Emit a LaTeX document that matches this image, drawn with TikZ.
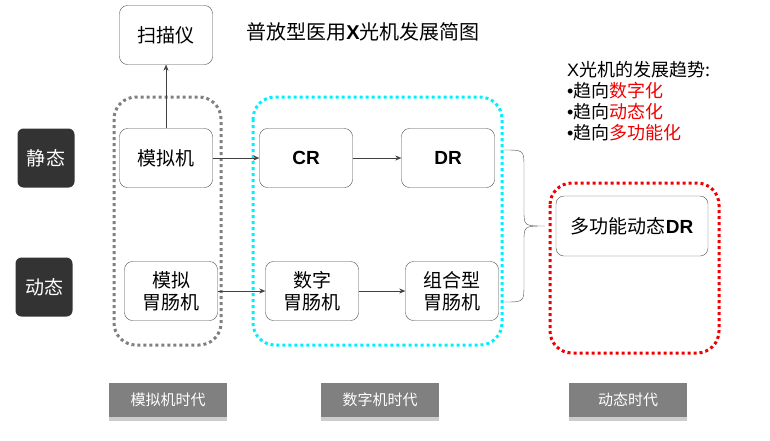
\documentclass[tikz,border=0pt]{standalone}
\usepackage{fontspec}
\setmainfont{Noto Sans CJK SC}
\newfontfamily\arial{Liberation Sans}
\usetikzlibrary{arrows.meta,shadows}
\definecolor{aqua}{RGB}{0,240,255}
\definecolor{pure red}{RGB}{240,0,0}
\tikzset{
    box/.style={draw=black!70, rounded corners=8pt, minimum width=93pt, minimum height=59pt, align=center, inner sep=1pt, font=\fontsize{19}{22}\selectfont}, % 设备方框
    state tag/.style={fill=black!80, rounded corners=6pt, minimum width=57pt, minimum height=59pt, text=white, font=\fontsize{19}{20}\selectfont}, % 左侧静态/动态标签
    era frame/.style={line width=3pt, dash pattern=on 3pt off 3pt, rounded corners=22pt}, % 时代虚线框
    era label/.style={fill=gray, text=white, minimum width=118pt, minimum height=34pt, font=\fontsize{15}{16}\selectfont, drop shadow={shadow xshift=0pt, shadow yshift=-4pt, fill=black!20, opacity=1}}, % 底部时代名称
    link/.style={draw=black!75, -{Stealth[length=6pt, width=5pt]}} % 连接箭头
}
\begin{document}
\begin{tikzpicture}[x=1pt, y=-1pt]
    \useasboundingbox (0,0) rectangle (770,440);

    % 时代虚线框
    \draw[era frame, gray] (114,97) rectangle (221,345);
    \draw[era frame, aqua] (253,97) rectangle (502,345);
    \draw[era frame, pure red] (550,183) rectangle (719,353);

    \node[font=\fontsize{20}{22}\selectfont] (title) at (363,32) {普放型医用{\arial\bfseries X}光机发展简图};

    \node[state tag] (jt) at (46,158) {静态};
    \node[state tag] (dt) at (44,287) {动态};

    \node[box] (smy) at (166,35) {扫描仪};
    \node[box] (mnj) at (166,158) {模拟机};
    \node[box] (mnwc) at (171,291) {模拟\\胃肠机};
    \node[box, font=\fontsize{19}{22}\selectfont\arial\bfseries] (cr) at (306,158) {CR};
    \node[box, font=\fontsize{19}{22}\selectfont\arial\bfseries] (dr) at (448,158) {DR};
    \node[box] (szwc) at (312,291) {数字\\胃肠机};
    \node[box] (zhwc) at (452,291) {组合型\\胃肠机};
    \node[box, minimum width=152pt, minimum height=60pt] (dgn) at (632,226) {多功能动态{\arial\bfseries DR}};

    \draw[link] (mnj) -- (smy);
    \draw[link] (mnj) -- (cr);
    \draw[link] (cr) -- (dr);
    \draw[link] (mnwc) -- (szwc);
    \draw[link] (szwc) -- (zhwc);

    % 大括号
    \coordinate (bt) at (504,150);
    \coordinate (bb) at (504,302);
    \coordinate (tip) at (545,226);
    \draw[black!70] (bt) .. controls (524,150) .. (524,168) -- (524,210) .. controls (524,226) .. (tip)
        .. controls (524,226) .. (524,242) -- (524,284) .. controls (524,302) .. (bb);

    \node[anchor=north west, inner sep=0pt, align=left, font=\fontsize{18}{21}\selectfont] (trend) at (567,61)
        {{\arial X}光机的发展趋势:\\{\arial •}趋向\textcolor{pure red}{数字化}\\{\arial •}趋向\textcolor{pure red}{动态化}\\{\arial •}趋向\textcolor{pure red}{多功能化}};

    \node[era label] (e1) at (168,400) {模拟机时代};
    \node[era label] (e2) at (380,400) {数字机时代};
    \node[era label] (e3) at (628,400) {动态时代};
\end{tikzpicture}
\end{document}
